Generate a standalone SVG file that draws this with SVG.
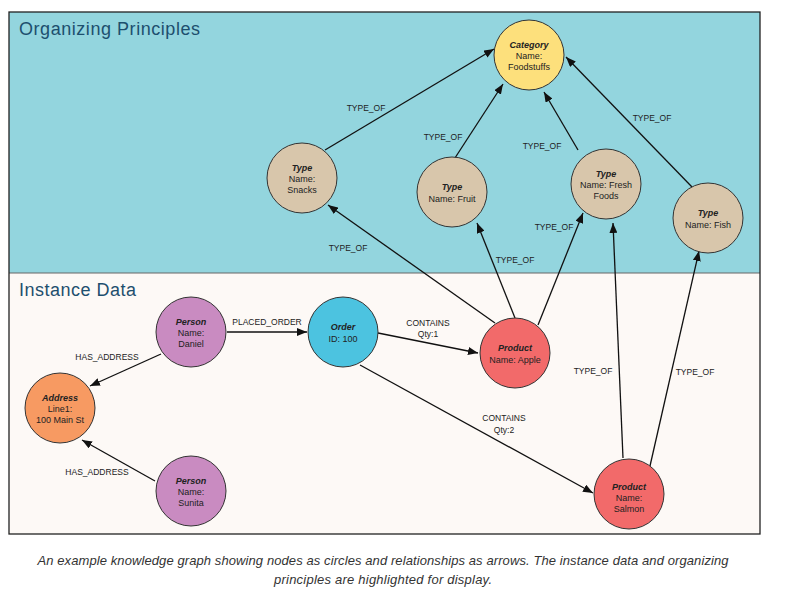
<svg xmlns="http://www.w3.org/2000/svg" width="786" height="596" viewBox="0 0 786 596">
<style>
.t{font-family:"Liberation Sans",Arial,sans-serif;font-size:9px;fill:#222;text-anchor:middle}
.b{font-weight:bold;font-style:italic}
.el{font-family:"Liberation Sans",Arial,sans-serif;font-size:8.5px;fill:#222;text-anchor:middle}
.ttl{font-family:"Liberation Sans",Arial,sans-serif;font-size:18px;fill:#1d4f6e}
.c{stroke:#333;stroke-width:1}
.e{stroke:#111;stroke-width:1.3;fill:none;marker-end:url(#ah)}
.cap{font-family:"Liberation Sans",Arial,sans-serif;font-size:13px;font-style:italic;fill:#333;text-anchor:middle}
</style>
<defs>
<marker id="ah" markerUnits="userSpaceOnUse" markerWidth="10" markerHeight="8" refX="10" refY="4" orient="auto">
<path d="M0,0 L10,4 L0,8 z" fill="#111"/>
</marker>
</defs>
<rect width="786" height="596" fill="#ffffff"/>
<g id="background">
<rect x="9" y="12" width="751" height="261" fill="#93d5de"/>
<rect x="9" y="273" width="751" height="261" fill="#fdf9f6"/>
<line x1="9" y1="273" x2="760" y2="273" stroke="#666" stroke-width="1"/>
<rect x="9" y="12" width="751" height="522" fill="none" stroke="#222" stroke-width="1.3"/>
<text class="ttl" x="19" y="35" textLength="181">Organizing Principles</text>
<text class="ttl" x="19" y="296" textLength="117">Instance Data</text>
</g>
<g id="connectors">
<line class="e" x1="325" y1="150" x2="494" y2="49"/>
<text class="el" x="366" y="111">TYPE_OF</text>
<line class="e" x1="453" y1="161" x2="503" y2="84"/>
<text class="el" x="443" y="140">TYPE_OF</text>
<line class="e" x1="578" y1="150" x2="544" y2="92"/>
<text class="el" x="542" y="149">TYPE_OF</text>
<line class="e" x1="692" y1="187" x2="566" y2="57"/>
<text class="el" x="652" y="121">TYPE_OF</text>
<line class="e" x1="495" y1="323" x2="328" y2="205"/>
<text class="el" x="348" y="251">TYPE_OF</text>
<line class="e" x1="515" y1="318" x2="477" y2="223"/>
<text class="el" x="515" y="263">TYPE_OF</text>
<line class="e" x1="538" y1="325" x2="583" y2="213"/>
<text class="el" x="554" y="230">TYPE_OF</text>
<line class="e" x1="623" y1="458" x2="613" y2="223"/>
<text class="el" x="593" y="374">TYPE_OF</text>
<line class="e" x1="650" y1="466" x2="699" y2="251"/>
<text class="el" x="695" y="375">TYPE_OF</text>
<line class="e" x1="227" y1="332" x2="307" y2="332"/>
<text class="el" x="267" y="325">PLACED_ORDER</text>
<line class="e" x1="161" y1="354" x2="90" y2="386"/>
<text class="el" x="107" y="360">HAS_ADDRESS</text>
<line class="e" x1="155" y1="481" x2="82" y2="440"/>
<text class="el" x="97" y="475">HAS_ADDRESS</text>
<line class="e" x1="378" y1="333" x2="478" y2="353"/>
<text class="el" x="428" y="326">CONTAINS</text>
<text class="el" x="428" y="337">Qty:1</text>
<line class="e" x1="360" y1="365" x2="593" y2="493"/>
<text class="el" x="504" y="421">CONTAINS</text>
<text class="el" x="504" y="433">Qty:2</text>
</g>
<g id="category">
<circle class="c" cx="529" cy="55" r="35" fill="#fde07c"/>
<text class="t" x="529" y="48"><tspan class="b">Category</tspan><tspan x="529" dy="11">Name:</tspan><tspan x="529" dy="11">Foodstuffs</tspan></text>
</g>
<g id="type-snacks">
<circle class="c" cx="302" cy="178" r="35" fill="#d8c6ab"/>
<text class="t" x="302" y="171"><tspan class="b">Type</tspan><tspan x="302" dy="11">Name:</tspan><tspan x="302" dy="11">Snacks</tspan></text>
</g>
<g id="type-fruit">
<circle class="c" cx="452" cy="192" r="35" fill="#d8c6ab"/>
<text class="t" x="452" y="190"><tspan class="b">Type</tspan><tspan x="452" dy="12">Name: Fruit</tspan></text>
</g>
<g id="type-freshfoods">
<circle class="c" cx="606" cy="184" r="35" fill="#d8c6ab"/>
<text class="t" x="606" y="177"><tspan class="b">Type</tspan><tspan x="606" dy="11">Name: Fresh</tspan><tspan x="606" dy="11">Foods</tspan></text>
</g>
<g id="type-fish">
<circle class="c" cx="708" cy="218" r="35" fill="#d8c6ab"/>
<text class="t" x="708" y="216"><tspan class="b">Type</tspan><tspan x="708" dy="12">Name: Fish</tspan></text>
</g>
<g id="person-daniel">
<circle class="c" cx="191" cy="332" r="35" fill="#c98bc1"/>
<text class="t" x="191" y="325"><tspan class="b">Person</tspan><tspan x="191" dy="11">Name:</tspan><tspan x="191" dy="11">Daniel</tspan></text>
</g>
<g id="order">
<circle class="c" cx="343" cy="332" r="35" fill="#4cc3e0"/>
<text class="t" x="343" y="330"><tspan class="b">Order</tspan><tspan x="343" dy="12">ID: 100</tspan></text>
</g>
<g id="address">
<circle class="c" cx="60" cy="408" r="35" fill="#f79a62"/>
<text class="t" x="60" y="401"><tspan class="b">Address</tspan><tspan x="60" dy="11">Line1:</tspan><tspan x="60" dy="11">100 Main St</tspan></text>
</g>
<g id="person-sunita">
<circle class="c" cx="191" cy="491" r="35" fill="#c98bc1"/>
<text class="t" x="191" y="484"><tspan class="b">Person</tspan><tspan x="191" dy="11">Name:</tspan><tspan x="191" dy="11">Sunita</tspan></text>
</g>
<g id="product-apple">
<circle class="c" cx="515" cy="353" r="35" fill="#f26a6a"/>
<text class="t" x="515" y="351"><tspan class="b">Product</tspan><tspan x="515" dy="12">Name: Apple</tspan></text>
</g>
<g id="product-salmon">
<circle class="c" cx="629" cy="494" r="35" fill="#f26a6a"/>
<text class="t" x="629" y="490"><tspan class="b">Product</tspan><tspan x="629" dy="11">Name:</tspan><tspan x="629" dy="11">Salmon</tspan></text>
</g>
<g id="caption">
<text class="cap" x="383" y="565" textLength="691">An example knowledge graph showing nodes as circles and relationships as arrows. The instance data and organizing</text>
<text class="cap" x="383" y="584" textLength="218">principles are highlighted for display.</text>
</g>
</svg>
